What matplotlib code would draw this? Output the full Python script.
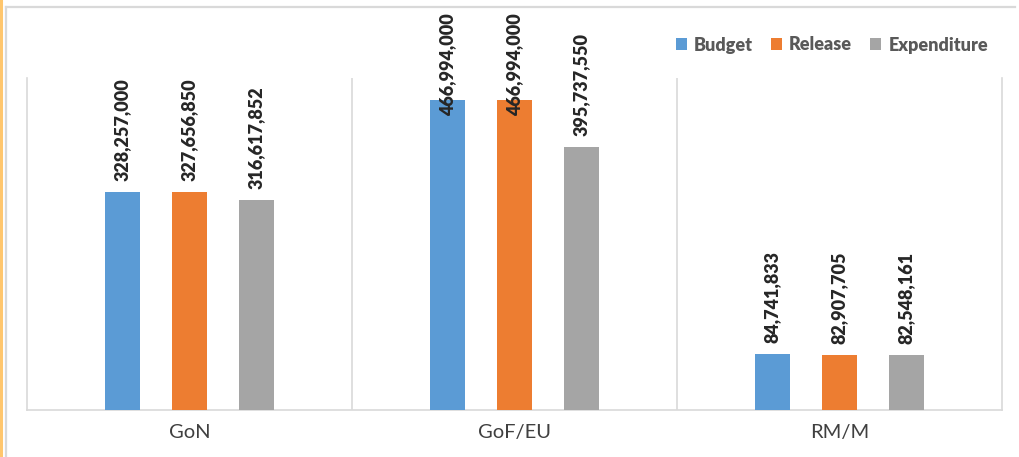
import matplotlib.pyplot as plt
import numpy as np
from matplotlib.lines import Line2D

categories = ['GoN', 'GoF/EU', 'RM/M']
budget = [328257000, 466994000, 84741833]
release = [327656850, 466994000, 82907705]
expenditure = [316617852, 395737550, 82548161]
series_names = ['Budget', 'Release', 'Expenditure']
colors = ['#5b9bd5', '#ed7d31', '#a5a5a5']

plt.rcParams['font.family'] = ['Lato', 'DejaVu Sans']

W, H = 1020, 457
fig = plt.figure(figsize=(W / 100, H / 100), dpi=100)
ax = fig.add_axes([27 / W, 1 - 410 / H, (1002 - 27) / W, (410 - 78) / H])

x = np.arange(len(categories))
step = 0.206
width = 0.108
texts = []
for i, (vals, c) in enumerate(zip([budget, release, expenditure], colors)):
    pos = x + (i - 1) * step
    ax.bar(pos, vals, width, color=c, label=series_names[i], zorder=3)
    for px, v in zip(pos, vals):
        t = ax.annotate('{:,}'.format(v), (px, v), xytext=(0, 8), textcoords='offset points',
                        rotation=90, ha='center', va='bottom', fontsize=13, fontweight='heavy',
                        color='#262626', zorder=4, annotation_clip=False)
        texts.append(t)

ax.set_xlim(-0.5, 2.5)
ax.set_ylim(0, 500e6)
ax.set_yticks([])
ax.set_xticks(x)
ax.set_xticklabels(categories, fontsize=14.5, color='#404040')
ax.tick_params(axis='x', length=0, pad=10)
ax.spines['top'].set_visible(False)
for s in ['left', 'right', 'bottom']:
    ax.spines[s].set_color('#d9d9d9')
    ax.spines[s].set_linewidth(1.2)
for b in [0.5, 1.5]:
    ax.axvline(b, color='#d9d9d9', lw=1.2, zorder=1)

# keep labels inside the chart area (like Excel does)
fig.canvas.draw()
limit = H - 13
inv = ax.transData.inverted()
for t in texts:
    bb = t.get_window_extent()
    if bb.y1 > limit:
        t.set_va('top')
        t.xy = (t.xy[0], inv.transform((0, limit))[1])
        t.xyann = (0, 0)

leg = fig.legend(loc='center', bbox_to_anchor=(832 / W, 1 - 45 / H), ncol=3, frameon=False,
                 handlelength=0.6, handleheight=0.6, handletextpad=0.4, columnspacing=1.0,
                 prop={'size': 13, 'weight': 'heavy'})
for txt in leg.get_texts():
    txt.set_color('#595959')

# chart frame
fig.add_artist(Line2D([1.5 / W, 1.5 / W], [0, 1], color='#ffc66d', lw=2.2))
fig.add_artist(Line2D([6.5 / W, 6.5 / W], [0, 1 - 7 / H], color='#d9d9d9', lw=1.6))
fig.add_artist(Line2D([6 / W, 1015 / W], [1 - 7 / H, 1 - 7 / H], color='#d9d9d9', lw=1.6))

fig.savefig('out.png', dpi=100)
